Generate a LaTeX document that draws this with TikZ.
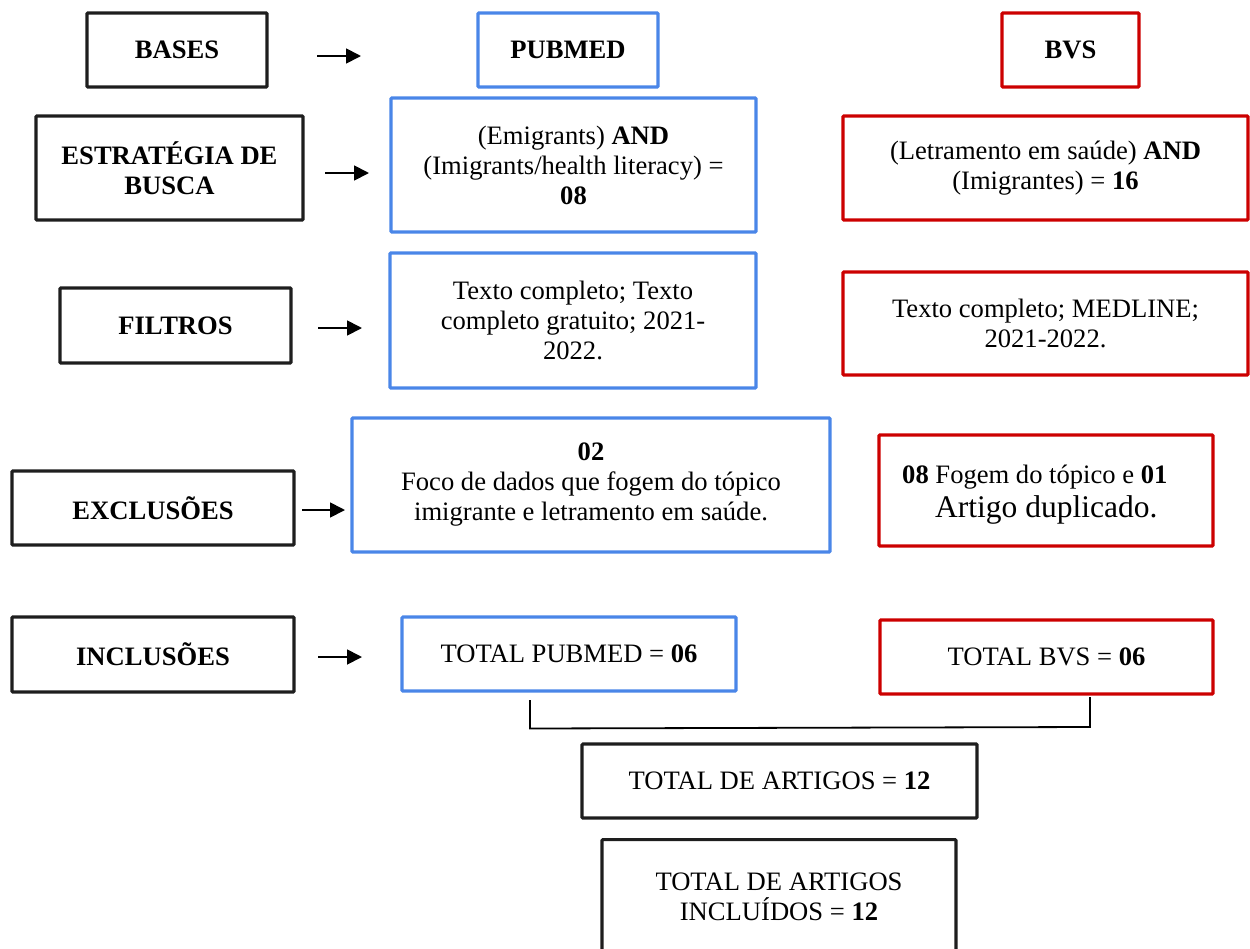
\documentclass[tikz,border=0pt]{standalone}
\usepackage{fontspec}
\setmainfont{Liberation Serif}
\usetikzlibrary{arrows.meta}
\definecolor{pblue}{HTML}{4A86E8}
\definecolor{bred}{HTML}{CC0000}
\definecolor{kbox}{HTML}{1E1E1E}
\begin{document}
\begin{tikzpicture}[x=1pt,y=-1pt,
  every node/.style={inner sep=0pt, align=center, font=\fontsize{26.6}{30}\selectfont},
  kb/.style={draw=kbox, line width=3.2pt, rounded corners=1pt, font=\fontsize{26.6}{30}\selectfont\bfseries},
  bb/.style={draw=pblue, line width=3.2pt, rounded corners=1pt},
  rb/.style={draw=bred, line width=3.4pt, rounded corners=1pt},
  arr/.style={line width=1.8pt, -{Triangle[length=15pt,width=15pt]}},
  brk/.style={line width=1.8pt}]
\useasboundingbox (0,0) rectangle (1250,948);
\clip (0,0) rectangle (1250,948);

% left labels
\node[kb, minimum width=180, minimum height=74] (bases) at (177,50) {BASES};
\node[kb, minimum width=267, minimum height=104] (estr) at (169.5,168) {ESTRATÉGIA DE\\BUSCA};
\node[kb, minimum width=231, minimum height=75] (filtros) at (175.5,325.5) {FILTROS};
\node[kb, minimum width=282, minimum height=74] (excl) at (153,508) {EXCLUSÕES};
\node[kb, minimum width=282, minimum height=75] (incl) at (153,654.5) {INCLUSÕES};

% arrows
\coordinate (a1s) at (317,56);  \coordinate (a1e) at (361,56);
\coordinate (a2s) at (325,173); \coordinate (a2e) at (369,173);
\coordinate (a3s) at (318,328); \coordinate (a3e) at (362,328);
\coordinate (a4s) at (302,510); \coordinate (a4e) at (345,510);
\coordinate (a5s) at (318,657); \coordinate (a5e) at (362,657);
\draw[arr] (a1s) -- (a1e);
\draw[arr] (a2s) -- (a2e);
\draw[arr] (a3s) -- (a3e);
\draw[arr] (a4s) -- (a4e);
\draw[arr] (a5s) -- (a5e);

% PUBMED column
\node[bb, minimum width=180, minimum height=74, font=\fontsize{26.6}{30}\selectfont\bfseries] (pubmed) at (568,50) {PUBMED};
\node[bb, minimum width=365, minimum height=134] (pstr) at (573.5,165) {(Emigrants) \textbf{AND}\\(Imigrants/health literacy) =\\\textbf{08}};
\node[bb, minimum width=366, minimum height=135] (pfil) at (573,320.5) {Texto completo; Texto\\completo gratuito; 2021-\\2022.};
\node[bb, minimum width=478, minimum height=134] (pexc) at (591,485) {\textbf{02}\\Foco de dados que fogem do tópico\\imigrante e letramento em saúde.};
\node[bb, minimum width=334, minimum height=74] (ptot) at (569,654) {TOTAL PUBMED = \textbf{06}};

% BVS column
\node[rb, minimum width=137, minimum height=74, font=\fontsize{26.6}{30}\selectfont\bfseries] (bvs) at (1070.5,50) {BVS};
\node[rb, minimum width=405, minimum height=104] (bstr) at (1045.5,168) {(Letramento em saúde) \textbf{AND}\\(Imigrantes) = \textbf{16}};
\node[rb, minimum width=405, minimum height=103] (bfil) at (1045.5,323.5) {Texto completo; MEDLINE;\\2021-2022.};
\node[rb, minimum width=334, minimum height=111] (bexc) at (1046,490.5) {};
\node[anchor=base west] (bexct1) at (902,483) {\textbf{08} Fogem do tópico e \textbf{01}};
\node[anchor=base west, font=\fontsize{31.5}{36}\selectfont] (bexct2) at (935,517) {Artigo duplicado.};
\node[rb, minimum width=333, minimum height=74] (btot) at (1046.5,657) {TOTAL BVS = \textbf{06}};

% bracket
\coordinate (bl) at (530,700);
\coordinate (br) at (1090,697);
\draw[brk] (bl) -- (530,728.5) -- (1090,727) -- (br);

% totals
\node[kb, font=\fontsize{26.6}{30}\selectfont, minimum width=395, minimum height=74] (total) at (779.5,781) {TOTAL DE ARTIGOS = \textbf{12}};
\node[kb, minimum width=354, minimum height=140, anchor=north] (fin) at (779,838) {};
\node (fint) at (779,897) {TOTAL DE ARTIGOS\\INCLUÍDOS = \textbf{12}};
\end{tikzpicture}
\end{document}
